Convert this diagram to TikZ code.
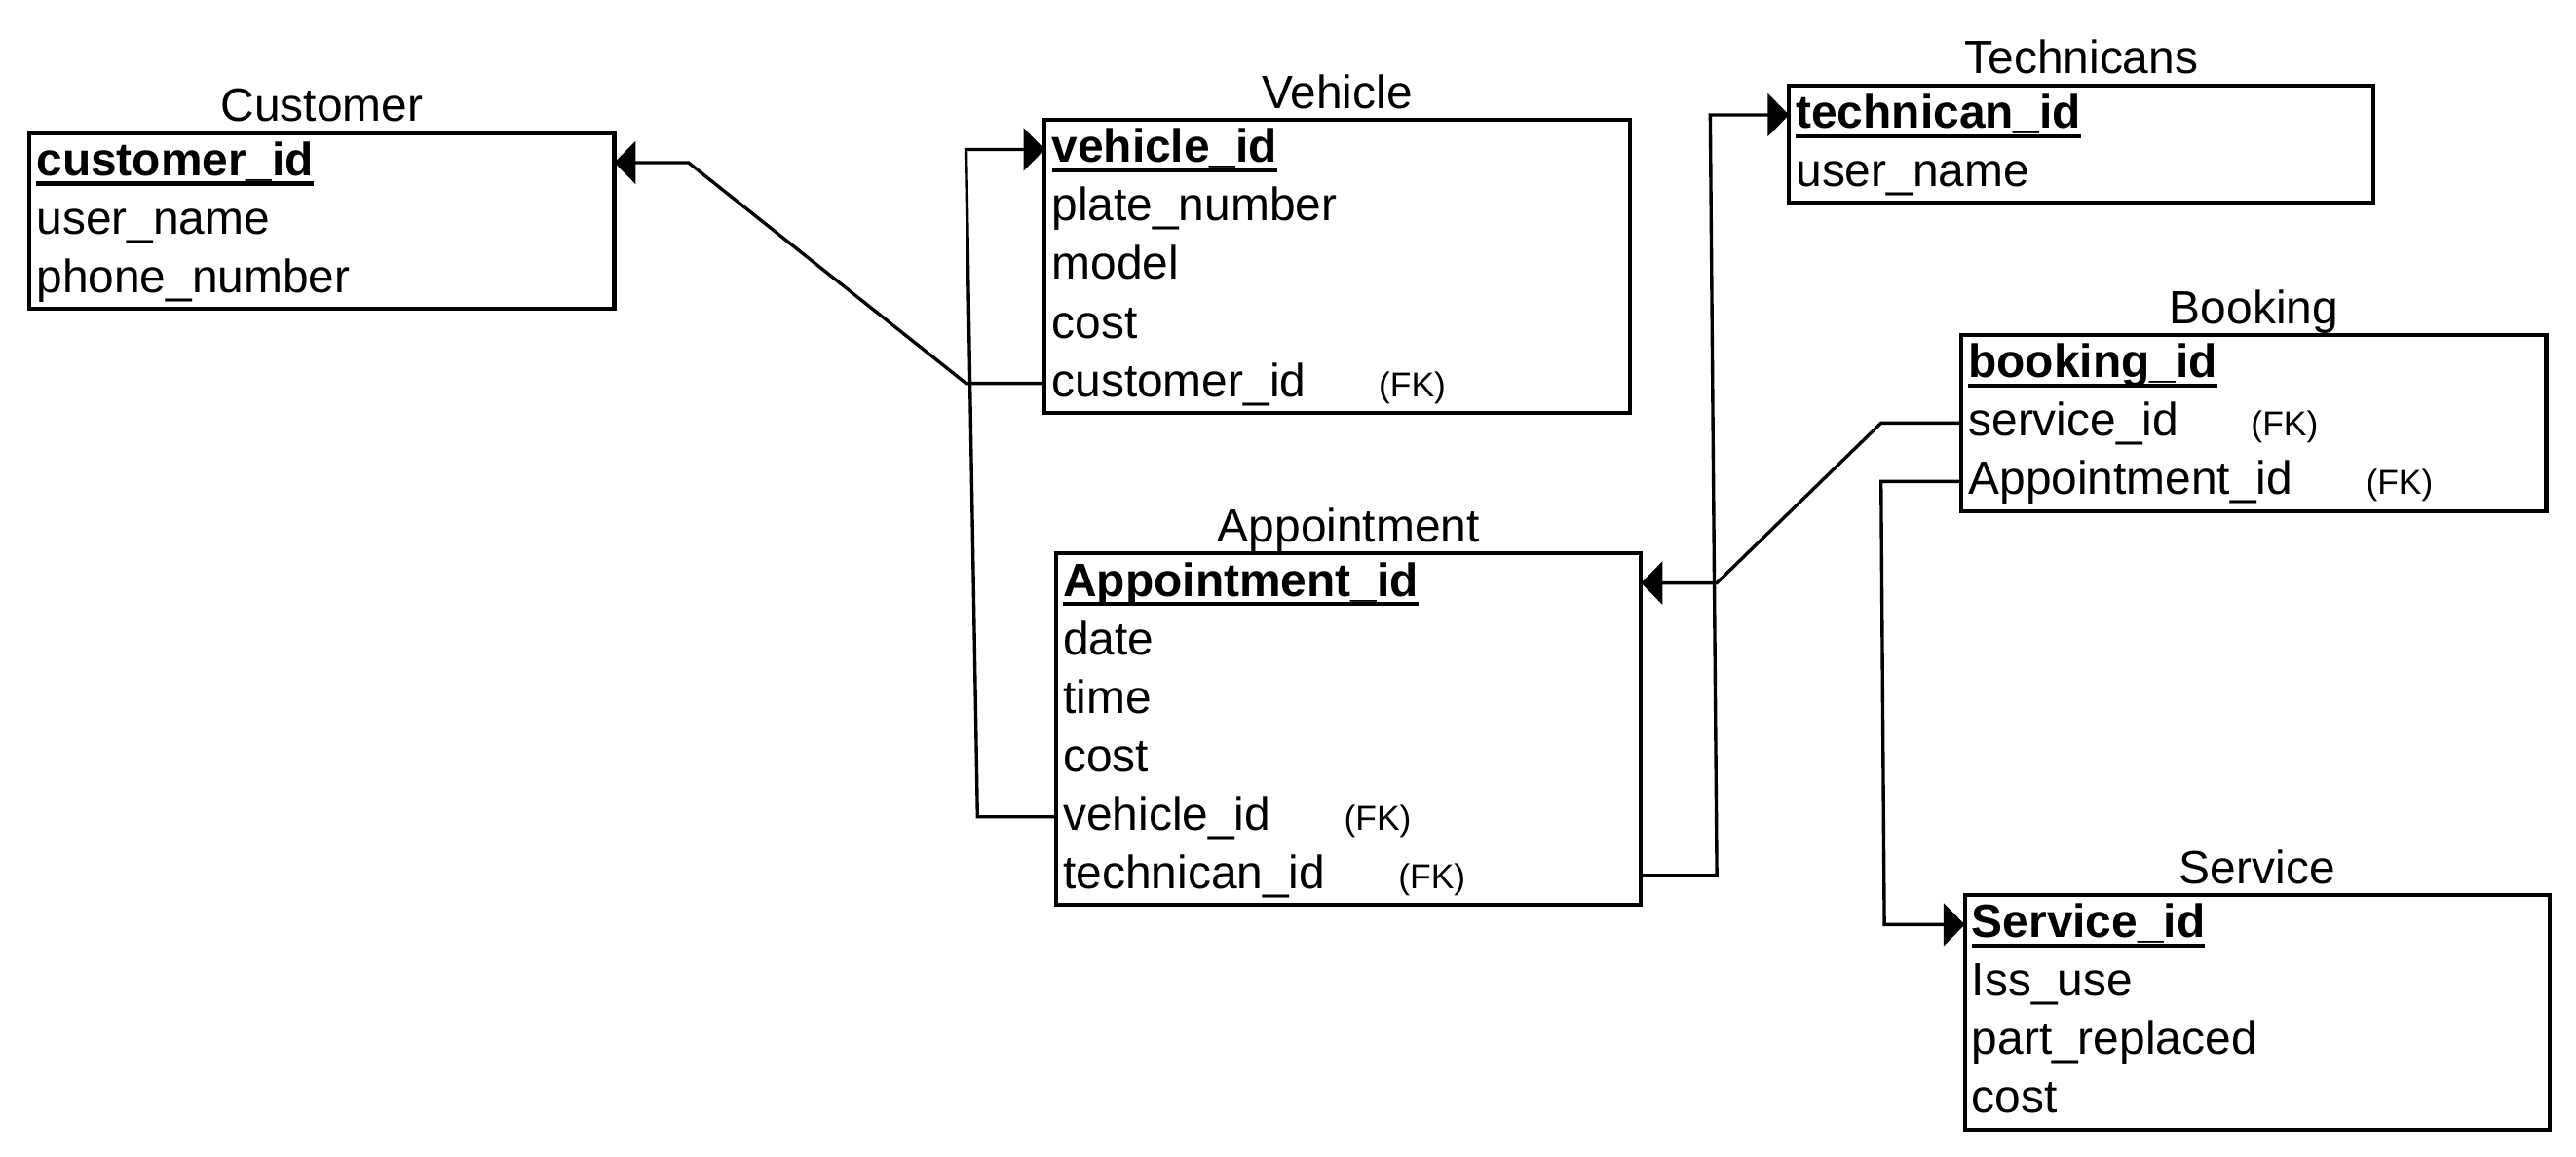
\documentclass[tikz,border=0pt]{standalone}
\usepackage{fontspec}
\setmainfont{Liberation Sans}
\usetikzlibrary{arrows.meta}
\newcommand\rowsz{\fontsize{28.4}{34}\selectfont}
\newcommand\fksz{\fontsize{21}{25}\selectfont}
\newcommand\pkey[1]{\setbox0\hbox{\bfseries #1}\rlap{\vrule width\wd0 height -3.6pt depth 6pt}\box0}
\newcommand\fkey[2]{\makebox[#1pt][l]{#2}{\fksz(FK)}}
\begin{document}
\begin{tikzpicture}[x=1pt,y=-1pt,
  row/.style={anchor=north west, inner xsep=4pt, inner ysep=0pt, minimum height=35.6pt,
    text width=347.5pt, align=left, text height=24pt, text depth=8pt, font=\rowsz},
  title/.style={anchor=base, inner sep=0pt, font=\rowsz},
  box/.style={draw, line width=2.4pt},
  conn/.style={line width=2pt},
  arr/.style={conn, -{Triangle[length=13pt,width=26pt]}},
]
\useasboundingbox (0,0) rectangle (1568,704);

% Customer
\node[row] (cust0) at (18,81) {\pkey{customer\_id}};
\node[row] (cust1) at (18,116.6) {user\_name};
\node[row] (cust2) at (18,152.2) {phone\_number};
\draw[box] (cust0.north west) rectangle (cust2.south east);
\node[title] (custT) at ([yshift=7pt]cust0.north) {Customer};

% Vehicle
\node[row] (veh0) at (636,73) {\pkey{vehicle\_id}};
\node[row] (veh1) at (636,108.6) {plate\_number};
\node[row] (veh2) at (636,144.2) {model};
\node[row] (veh3) at (636,179.8) {cost};
\node[row] (veh4) at (636,215.4) {\fkey{199}{customer\_id}};
\draw[box] (veh0.north west) rectangle (veh4.south east);
\node[title] (vehT) at ([yshift=7pt]veh0.north) {Vehicle};

% Appointment
\node[row] (app0) at (643,337) {\pkey{Appointment\_id}};
\node[row] (app1) at (643,372.6) {date};
\node[row] (app2) at (643,408.2) {time};
\node[row] (app3) at (643,443.8) {cost};
\node[row] (app4) at (643,479.4) {\fkey{171}{vehicle\_id}};
\node[row] (app5) at (643,515) {\fkey{204}{technican\_id}};
\draw[box] (app0.north west) rectangle (app5.south east);
\node[title] (appT) at ([yshift=7pt]app0.north) {Appointment};

% Technicans
\node[row] (tech0) at (1089,52) {\pkey{technican\_id}};
\node[row] (tech1) at (1089,87.6) {user\_name};
\draw[box] (tech0.north west) rectangle (tech1.south east);
\node[title] (techT) at ([yshift=7pt]tech0.north) {Technicans};

% Booking
\node[row] (book0) at (1194,204) {\pkey{booking\_id}};
\node[row] (book1) at (1194,239.6) {\fkey{172}{service\_id}};
\node[row] (book2) at (1194,275.2) {\fkey{242}{Appointment\_id}};
\draw[box] (book0.north west) rectangle (book2.south east);
\node[title] (bookT) at ([yshift=7pt]book0.north) {Booking};

% Service
\node[row] (serv0) at (1196,545) {\pkey{Service\_id}};
\node[row] (serv1) at (1196,580.6) {Iss\_use};
\node[row] (serv2) at (1196,616.2) {part\_replaced};
\node[row] (serv3) at (1196,651.8) {cost};
\draw[box] (serv0.north west) rectangle (serv3.south east);
\node[title] (servT) at ([yshift=7pt]serv0.north) {Service};

% junction columns
\coordinate (j1) at (588,0);
\coordinate (j2) at (419,0);
\coordinate (j3) at (595,0);
\coordinate (j4) at (1045,0);
\coordinate (j5) at (1041,0);
\coordinate (j6) at (1145,0);
\coordinate (j7) at (1147,0);

% connectors
\draw[arr] (veh4.west) -- (veh4.west -| j1) -- (cust0.east -| j2) -- (cust0.east);
\draw[arr] (app4.west) -- (app4.west -| j3) -- (veh0.west -| j1) -- (veh0.west);
\draw[arr] (app5.east) -- (app5.east -| j4) -- (tech0.west -| j5) -- (tech0.west);
\draw[arr] (book1.west) -- (book1.west -| j6) -- (app0.east -| j4) -- (app0.east);
\draw[arr] (book2.west) -- (book2.west -| j6) -- (serv0.west -| j7) -- (serv0.west);
\end{tikzpicture}
\end{document}
